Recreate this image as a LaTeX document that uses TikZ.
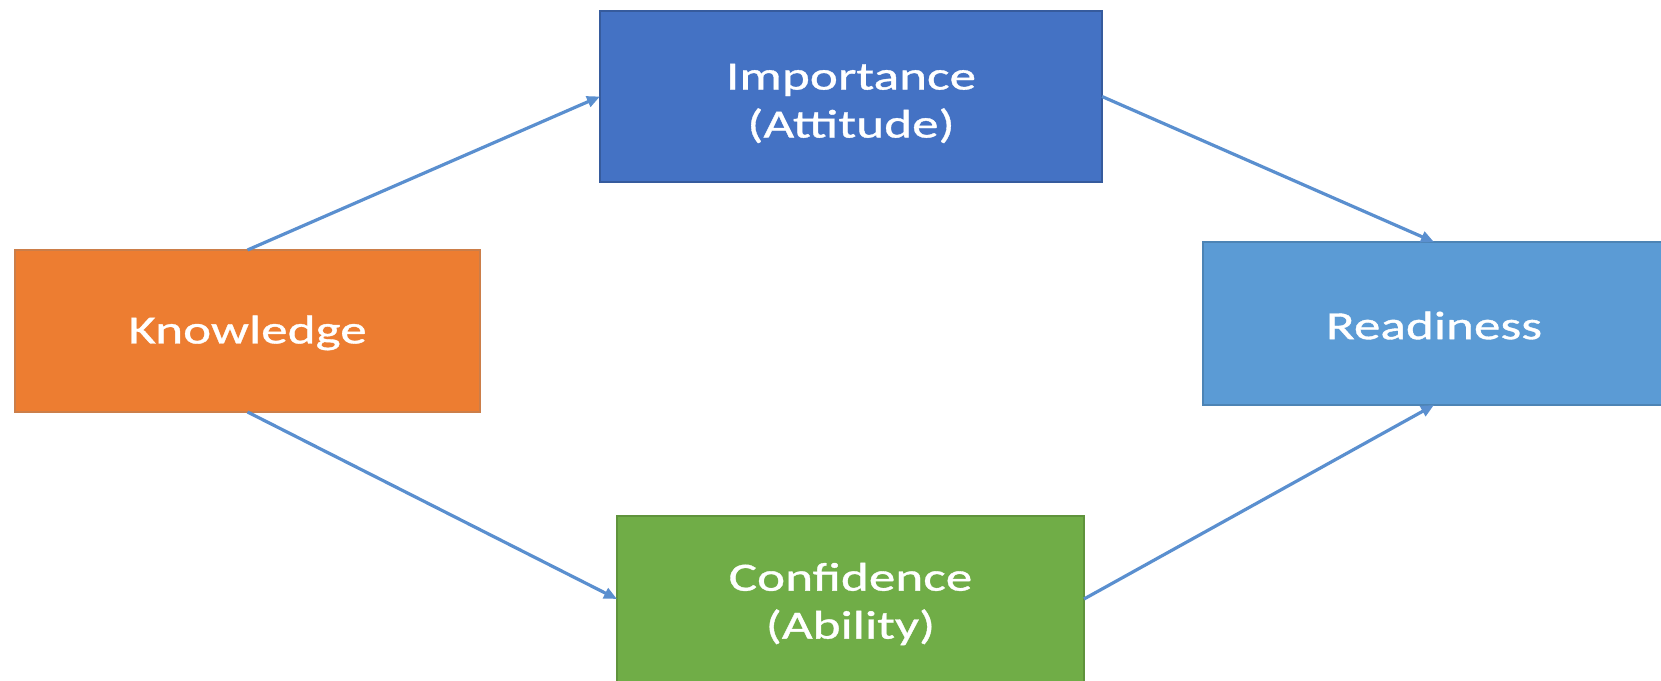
\documentclass[tikz,border=0pt]{standalone}
\usepackage{fontspec}
\newfontfamily\labfont[FakeStretch=1.33,FakeBold=0.9]{Carlito}
\usetikzlibrary{arrows.meta}
\definecolor{impblue}{HTML}{4472C4}
\definecolor{knorange}{HTML}{ED7D31}
\definecolor{readblue}{HTML}{5B9BD5}
\definecolor{confgreen}{HTML}{70AD47}
\definecolor{arrowblue}{HTML}{5A8FCF}
\tikzset{
  box/.style={rectangle, inner sep=0pt, outer sep=0pt, line width=1.2pt},
  lab/.style={inner sep=0pt, align=center, text=white,
    font=\labfont\fontsize{40}{48}\selectfont},
  link/.style={draw=arrowblue, line width=3.2pt, -{Triangle[length=13pt,width=11pt]}}
}
\begin{document}
\begin{tikzpicture}[x=1pt,y=1pt]
\useasboundingbox (0,0) rectangle (1661,680);
\node[box, fill=impblue, draw=impblue!80!black, minimum width=502pt, minimum height=171pt] (imp) at (851,583.5) {};
\node[box, fill=knorange, draw=knorange!70!gray, minimum width=465pt, minimum height=162pt] (know) at (247.5,349) {};
\node[box, fill=readblue, draw=readblue!85!black, minimum width=462pt, minimum height=163pt] (read) at (1434,356.5) {};
\node[box, fill=confgreen, draw=confgreen!85!black, minimum width=467pt, minimum height=166pt] (conf) at (850.5,81) {};
\node[lab] (impt) at ([yshift=-7pt]imp.center) {Importance\\(Attitude)};
\node[lab] (knowt) at ([yshift=-2pt]know.center) {Knowledge};
\node[lab] (readt) at ([yshift=-2pt]read.center) {Readiness};
\node[lab] (conft) at ([yshift=-5pt]conf.center) {Confidence\\(Ability)};
\draw[link] (know.north) -- (imp.west);
\draw[link] (imp.east) -- (read.north);
\draw[link] (know.south) -- (conf.west);
\draw[link] (conf.east) -- (read.south);
\end{tikzpicture}
\end{document}
